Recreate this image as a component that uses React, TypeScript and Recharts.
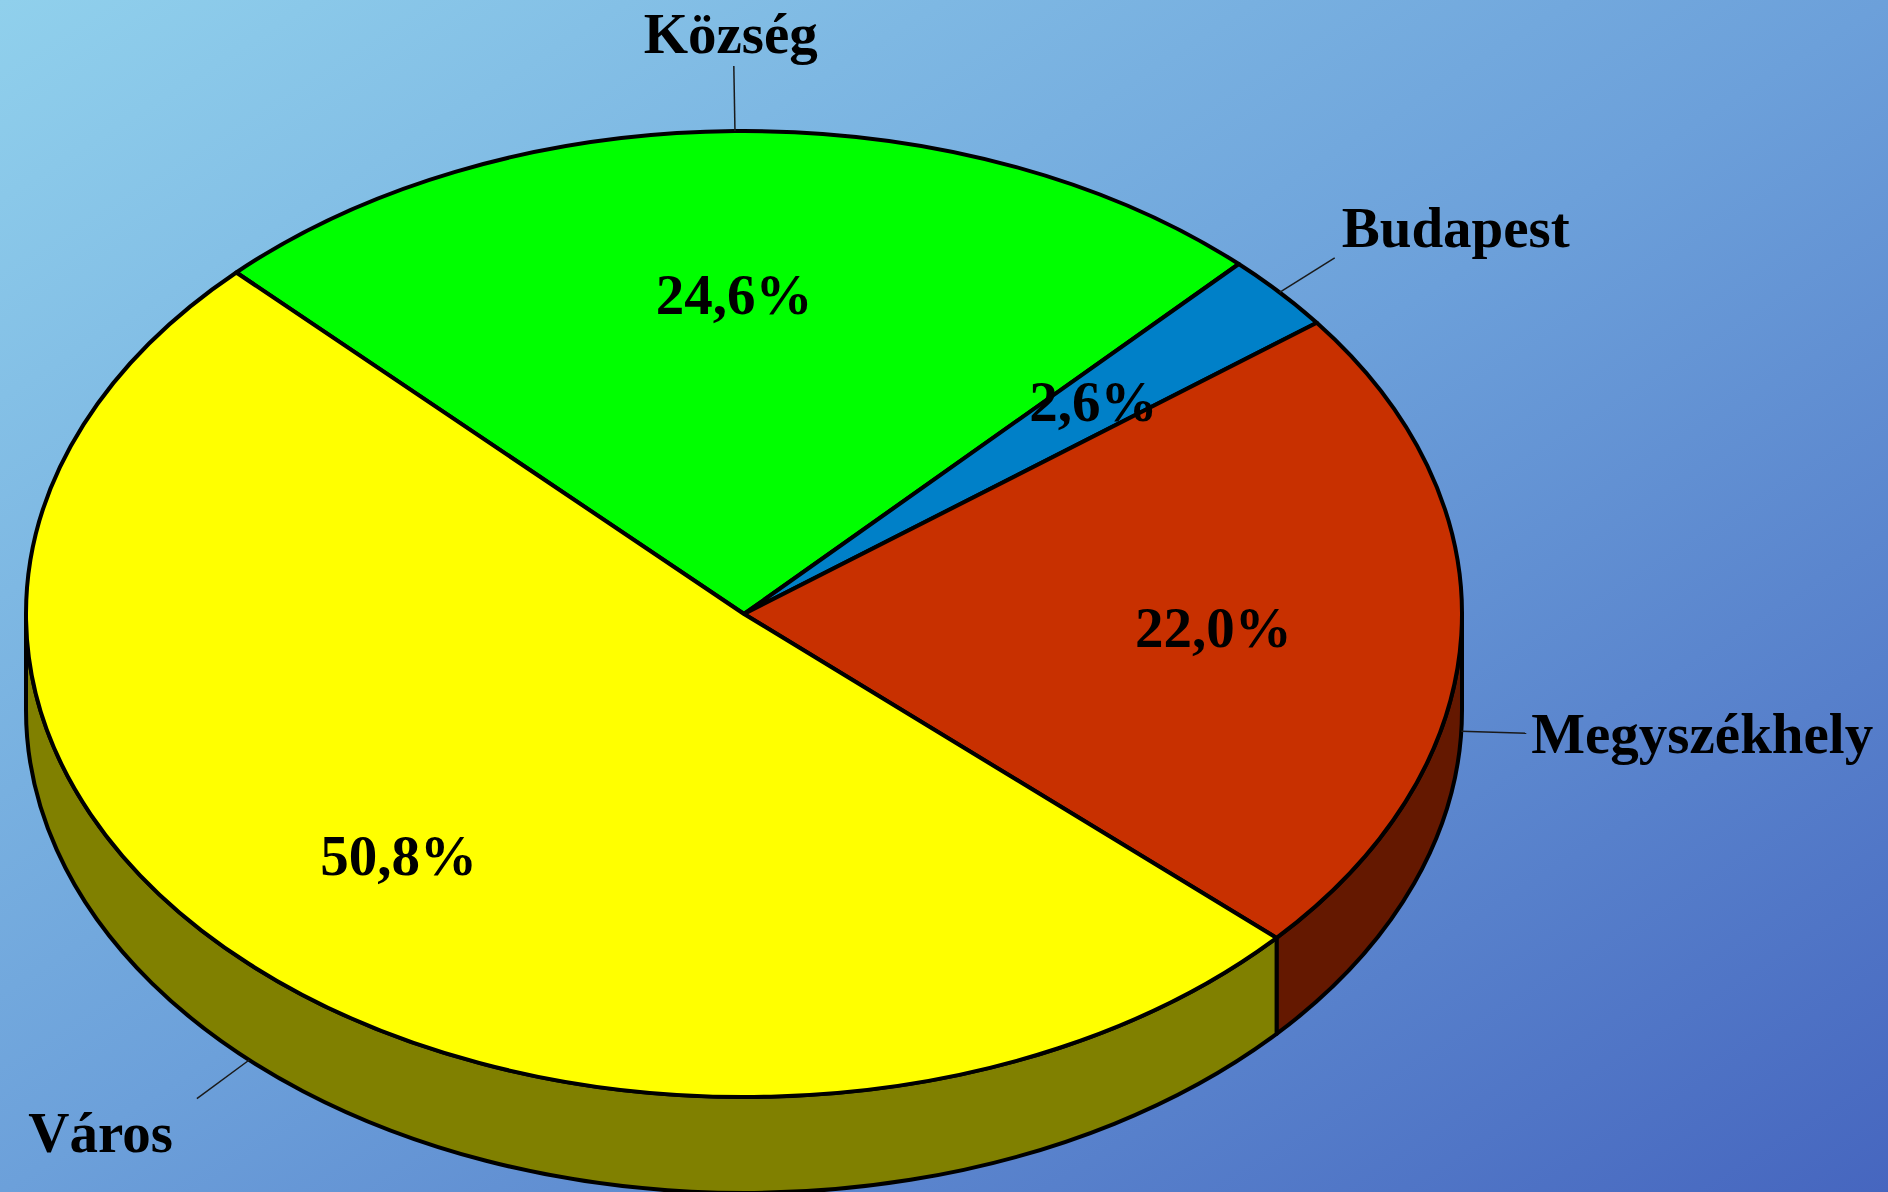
import React from 'react';
import { PieChart, Pie, Cell } from 'recharts';

const categories = ['Község', 'Budapest', 'Megyszékhely', 'Város'];
const shares = [24.6, 2.6, 22.0, 50.8];
const topColors = ['#00FF00', '#0080C8', '#C83000', '#FFFF00'];
const sideColors = ['#008000', '#004064', '#641800', '#808000'];

const data = categories.map((name, i) => ({ name, value: shares[i] }));

const W = 1888;
const H = 1192;
const CX = 744;
const CY = 614;
const RX = 718;
const TILT = 483 / 718; // vertical squash of the top face
const DEPTH = 96;
const RAD = Math.PI / 180;
const FONT = "'Liberation Serif', 'Times New Roman', serif";

const pt = (cx: number, cy: number, r: number, a: number, dy = 0) => [
  cx + r * Math.cos(a * RAD),
  cy - r * TILT * Math.sin(a * RAD) + dy,
];

const sideFor = (name: string) => sideColors[categories.indexOf(name)] || '#333';

// elliptical sector + visible front wall
const Slice = (props: any) => {
  const { cx, cy, outerRadius, startAngle, endAngle, fill, name, payload } = props;
  const rx = outerRadius;
  const ry = outerRadius * TILT;
  const [x1, y1] = pt(cx, cy, rx, startAngle);
  const [x2, y2] = pt(cx, cy, rx, endAngle);
  const large = Math.abs(startAngle - endAngle) > 180 ? 1 : 0;
  const sweep = startAngle > endAngle ? 1 : 0;
  const hi0 = Math.max(startAngle, endAngle);
  const lo0 = Math.min(startAngle, endAngle);

  const walls: React.ReactNode[] = [];
  for (let k = -2; k <= 2; k++) {
    const lo = Math.max(lo0, -180 + 360 * k);
    const hi = Math.min(hi0, 360 * k);
    if (hi - lo > 0.01) {
      const [a1, b1] = pt(cx, cy, rx, hi);
      const [a2, b2] = pt(cx, cy, rx, lo);
      const d = `M${a1},${b1} A${rx},${ry} 0 0 1 ${a2},${b2} L${a2},${b2 + DEPTH} A${rx},${ry} 0 0 0 ${a1},${b1 + DEPTH} Z`;
      walls.push(
        <path key={k} d={d} fill={sideFor(name || payload?.name)} stroke="#000" strokeWidth={4} strokeLinejoin="round" />
      );
    }
  }

  return (
    <g>
      {walls}
      <path
        d={`M${cx},${cy} L${x1},${y1} A${rx},${ry} 0 ${large} ${sweep} ${x2},${y2} Z`}
        fill={fill}
        stroke="#000"
        strokeWidth={4}
        strokeLinejoin="round"
      />
    </g>
  );
};

const renderLabel = (props: any) => {
  const { cx, cy, outerRadius, midAngle, value, name, index } = props;
  const c = Math.cos(midAngle * RAD);
  const s = Math.sin(midAngle * RAD);

  // percentage inside the slice
  const f = s < -0.3 ? 0.69 : 0.66;
  const [ix, iy] = pt(cx, cy, outerRadius * f, midAngle);

  // leader line from the rim
  const [ax, ay] = pt(cx, cy, outerRadius, midAngle, s < 0 ? DEPTH : 0);
  const dx = c;
  const dy = -0.7 * s;
  const len = Math.hypot(dx, dy);
  const ex = ax + (dx / len) * 65;
  const ey = ay + (dy / len) * 65;

  let tx = ex;
  let ty = ey + 19;
  let anchor: 'start' | 'middle' | 'end' = 'middle';
  if (s < -0.3) {
    anchor = 'end';
    tx = ex - 24;
    ty = ey + 53;
  } else if (c > 0.2) {
    anchor = 'start';
    tx = s > 0.3 ? ex + 7 : ex + 5;
    ty = s > 0.3 ? ey - 11 : ey + 20;
  } else if (c < -0.2) {
    anchor = 'end';
    tx = ex - 1;
  } else {
    tx = ex - 3;
    ty = s > 0 ? ey - 13 : ey + 50;
  }

  return (
    <g key={`lbl-${index}`}>
      <text x={ix - 4} y={iy + 19} textAnchor="middle" fontFamily={FONT} fontWeight="bold" fontSize={57} fill="#000">
        {value.toFixed(1).replace('.', ',')}%
      </text>
      <line x1={ax} y1={ay} x2={ex} y2={ey} stroke="#1a1a1a" strokeWidth={1.5} />
      <text x={tx} y={ty} textAnchor={anchor} fontFamily={FONT} fontWeight="bold" fontSize={57} fill="#000">
        {name}
      </text>
    </g>
  );
};

export default function App() {
  return (
    <div
      style={{
        position: 'absolute',
        left: 0,
        top: 0,
        width: W,
        height: H,
        overflow: 'hidden',
        background: 'linear-gradient(to bottom right, #90D0EC 0%, #6CA0DA 50%, #4666BF 100%)',
      }}
    >
      <PieChart width={W} height={H} margin={{ top: 0, right: 0, bottom: 0, left: 0 }}>
        <Pie
          data={data}
          dataKey="value"
          nameKey="name"
          cx={CX}
          cy={CY}
          innerRadius={0}
          outerRadius={RX}
          startAngle={135}
          endAngle={-225}
          stroke="#000"
          shape={Slice}
          inactiveShape={Slice}
          label={renderLabel}
          labelLine={false}
          isAnimationActive={false}
        >
          {data.map((d, i) => (
            <Cell key={d.name} fill={topColors[i]} />
          ))}
        </Pie>
      </PieChart>
    </div>
  );
}
